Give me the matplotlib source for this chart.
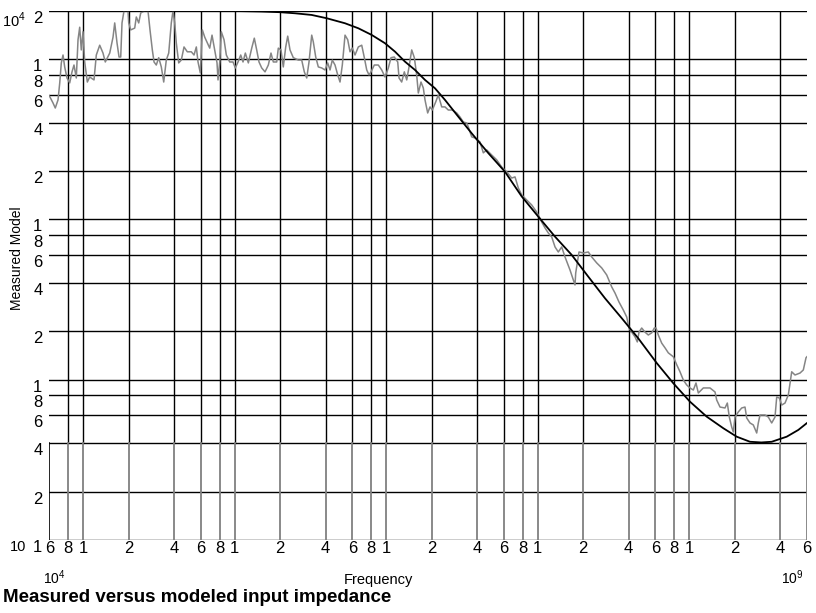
import matplotlib
matplotlib.use("Agg")
import matplotlib.pyplot as plt
from matplotlib import font_manager

# pick a condensed face if present
names = {f.name for f in font_manager.fontManager.ttflist}
narrow = "Liberation Sans Narrow" if "Liberation Sans Narrow" in names else "Liberation Sans"
plt.rcParams["font.family"] = [narrow, "DejaVu Sans"]
plt.rcParams["mathtext.fontset"] = "custom"
plt.rcParams["mathtext.rm"] = narrow

# ---- data ----
meas_freq = [
    6000, 6340, 6560, 6840, 7020, 7190, 7380, 7570, 7840, 8170,
    8460, 8720, 9030, 9270, 9510, 9740, 10000, 10260, 10680, 11070,
    11820, 12240, 12890, 13550, 14030, 15010, 15780, 16190, 16770, 17290,
    17740, 18090, 18650, 19820, 20030, 20650, 21940, 22480, 23320, 24040,
    25550, 26850, 27680, 28680, 29430, 30460, 31600, 32870, 34100, 35460,
    36790, 38260, 39260, 40300, 41290, 42820, 44550, 46420, 48800, 51870,
    54040, 55970, 57430, 59480, 61320, 63590, 66160, 68610, 71050, 74020,
    76660, 77830, 79870, 81840, 85270, 88310, 92970, 97750, 101200, 105500,
    109900, 113800, 117900, 123400, 129900, 135100, 140100, 145100, 151200, 159000,
    167200, 174100, 180400, 189900, 194600, 202700, 209900, 217800, 224500, 232400,
    244400, 263700, 277700, 288900, 299700, 310300, 323300, 331200, 343600, 357400,
    376400, 395700, 412300, 427000, 442100, 460700, 480000, 497100, 514800, 536400,
    558800, 578700, 599300, 624400, 656600, 691400, 719300, 746000, 772500, 796200,
    837200, 889600, 936700, 984900, 1.036e6, 1.079e6, 1.134e6, 1.195e6, 1.219e6, 1.269e6,
    1.321e6, 1.370e6, 1.419e6, 1.478e6, 1.538e6, 1.594e6, 1.634e6, 1.702e6, 1.763e6, 1.809e6,
    1.884e6, 1.952e6, 2.021e6, 2.128e6, 2.214e6, 2.332e6, 2.451e6, 2.577e6, 2.738e6, 2.929e6,
    3.079e6, 3.237e6, 3.410e6, 3.494e6, 3.679e6, 3.868e6, 4.174e6, 4.388e6, 4.621e6, 4.985e6,
    5.379e6, 5.803e6, 6.262e6, 6.756e6, 7.104e6, 7.469e6, 7.865e6, 8.486e6, 9.156e6, 9.879e6,
    1.066e7, 1.121e7, 1.178e7, 1.241e7, 1.305e7, 1.372e7, 1.444e7, 1.519e7, 1.639e7, 1.723e7,
    1.768e7, 1.787e7, 1.842e7, 1.879e7, 2.006e7, 2.164e7, 2.279e7, 2.459e7, 2.653e7, 2.863e7,
    3.089e7, 3.248e7, 3.451e7, 3.684e7, 3.880e7, 4.018e7, 4.186e7, 4.401e7, 4.557e7, 4.677e7,
    4.873e7, 5.123e7, 5.387e7, 5.673e7, 5.902e7, 6.056e7, 6.272e7, 6.605e7, 6.945e7, 7.302e7,
    7.879e7, 8.295e7, 8.722e7, 9.170e7, 9.656e7, 1.015e8, 1.068e8, 1.112e8, 1.152e8, 1.243e8,
    1.376e8, 1.485e8, 1.523e8, 1.602e8, 1.728e8, 1.790e8, 1.845e8, 1.913e8, 1.961e8, 2.012e8,
    2.115e8, 2.227e8, 2.342e8, 2.403e8, 2.527e8, 2.657e8, 2.798e8, 2.867e8, 2.942e8, 3.174e8,
    3.337e8, 3.514e8, 3.695e8, 3.792e8, 3.945e8, 4.092e8, 4.302e8, 4.523e8, 4.763e8, 5.008e8,
    5.403e8, 5.682e8, 5.919e8, 6.0e8,
]
meas_z = [
    5890, 5320, 4950, 5560, 7100, 9460, 10600, 8930, 7620, 7100,
    8320, 9180, 7620, 13200, 15800, 11400, 14800, 9590, 7190, 7730,
    7410, 10600, 12200, 10900, 9590, 10900, 13700, 16800, 12600, 10300,
    10300, 16800, 20000, 20000, 16800, 15200, 15600, 18300, 16800, 19400,
    20000, 20000, 15200, 11400, 9590, 9180, 10200, 8930, 7190, 9860,
    10900, 16800, 20000, 16800, 12600, 9460, 9860, 11900, 11100, 11100,
    10600, 11900, 9590, 8190, 15200, 13700, 12600, 11700, 14100, 11400,
    9460, 7410, 9590, 14800, 13200, 10600, 9590, 9590, 8800, 9590,
    10600, 9590, 10900, 9460, 11700, 13500, 11400, 9590, 8800, 8320,
    9180, 10900, 9590, 9590, 11700, 11400, 8930, 11900, 13900, 11400,
    10200, 9860, 9860, 8320, 7620, 9590, 14100, 12800, 10300, 8930,
    8800, 8550, 9460, 8550, 9860, 9180, 7960, 7190, 9180, 14100,
    13200, 11100, 11700, 10600, 11900, 12200, 10200, 8550, 7960, 8320,
    9180, 9180, 8550, 7730, 8800, 10200, 10300, 9590, 7620, 7190,
    8320, 7410, 8930, 11400, 10200, 7960, 6140, 7190, 6600, 5560,
    4610, 5030, 4810, 5400, 5970, 5030, 5030, 4810, 4810, 4610,
    4350, 4050, 3990, 3770, 3270, 3220, 3040, 2600, 2710, 2520,
    2350, 2120, 1980, 1810, 1840, 1570, 1420, 1320, 1230, 1110,
    963, 884, 823, 777, 673, 626, 673, 583, 483, 419,
    390, 463, 558, 626, 617, 626, 583, 535, 498, 450,
    379, 347, 305, 272, 246, 210, 198, 185, 172, 198,
    210, 198, 190, 196, 210, 210, 190, 169, 158, 147,
    139, 124, 112, 99.6, 92.7, 88.8, 86.2, 95.4, 82.6, 88.8,
    88.8, 83.8, 74.7, 67.5, 66.6, 71.5, 58.5, 50.7, 47.2, 58.5,
    62.9, 66.6, 67.5, 57.7, 53.7, 52.2, 46.5, 53.7, 60.2, 60.2,
    58.5, 53.7, 58.5, 78.0, 76.9, 69.5, 71.5, 80.3, 112, 107,
    110, 115, 137, 139,
]

model_freq = [
    6000, 100000, 150000, 200000, 250700, 323300, 406100, 536400, 656600, 804500,
    984900, 1.147e6, 1.335e6, 1.554e6, 1.809e6, 2.106e6, 2.451e6, 3.001e6, 3.679e6, 4.734e6,
    6.104e6, 7.865e6, 1.012e7, 1.305e7, 1.682e7, 2.164e7, 2.789e7, 3.596e7, 4.627e7, 6.121e7,
    7.879e7, 1.015e8, 1.309e8, 1.684e8, 2.065e8, 2.527e8, 3.0e8, 3.514e8, 4.415e8, 5.267e8,
    5.983e8,
]
model_z = [
    20000, 19950, 19800, 19600, 19300, 18840, 17970, 16720, 15560, 14140,
    12550, 11120, 9630, 8550, 7410, 6570, 5560, 4370, 3440, 2590,
    1980, 1390, 1040, 780, 600, 439, 322, 242, 181, 127,
    95.0, 72.9, 58.8, 49.8, 44.1, 41.0, 40.6, 41.0, 44.1, 48.6,
    53.5,
]

x_ticks = [6e3, 8e3, 1e4, 2e4, 4e4, 6e4, 8e4, 1e5, 2e5, 4e5, 6e5, 8e5,
           1e6, 2e6, 4e6, 6e6, 8e6, 1e7, 2e7, 4e7, 6e7, 8e7, 1e8, 2e8, 4e8, 6e8]
x_labels = ["6", "8", "1", "2", "4", "6", "8", "1", "2", "4", "6", "8",
            "1", "2", "4", "6", "8", "1", "2", "4", "6", "8", "1", "2", "4", "6"]
y_ticks = [10, 20, 40, 60, 80, 100, 200, 400, 600, 800,
           1000, 2000, 4000, 6000, 8000, 10000, 20000]
y_labels = ["1", "2", "4", "6", "8", "1", "2", "4", "6", "8",
            "1", "2", "4", "6", "8", "1", "2"]

x_min, x_max = 6e3, 6e8
y_min, y_max = 10, 2e4
y_split = 40  # below this the vertical rules are drawn grey

# ---- figure ----
fig = plt.figure(figsize=(8.16, 6.13), dpi=100)
ax = fig.add_axes([49.4 / 816, 73 / 613, 757.5 / 816, 529.2 / 613])
ax.set_xscale("log")
ax.set_yscale("log")
ax.set_xlim(x_min, x_max)
ax.set_ylim(y_min, y_max)

for s in ["top", "right", "left", "bottom"]:
    ax.spines[s].set_visible(False)

# horizontal rules
for y in y_ticks:
    ax.plot([x_min, x_max], [y, y], color="black", lw=1.0, zorder=1)

# vertical rules: black above the split, grey below it
for x in x_ticks[1:-1]:
    ax.plot([x, x], [y_split, y_max], color="black", lw=1.0, zorder=1)
for x in x_ticks[1:]:
    ax.plot([x, x], [y_min, y_split], color="#808080", lw=1.3, zorder=1)
ax.plot([x_min, x_min], [y_min, y_split], color="black", lw=1.2, zorder=1)

ax.plot(meas_freq, meas_z, color="#858585", lw=1.1, zorder=2, clip_on=True)
ax.plot(model_freq, model_z, color="black", lw=1.3, zorder=3)

ax.minorticks_off()
ax.set_xticks(x_ticks)
ax.set_xticklabels(x_labels, fontsize=12)
ax.set_yticks(y_ticks)
ax.set_yticklabels(y_labels, fontsize=12, va="top")
ax.tick_params(axis="both", length=0)
ax.tick_params(axis="x", pad=1)
ax.tick_params(axis="y", pad=5)

# decade markers next to the tick numbers
ax.text(-0.031, 1.0, r"10$^4$", transform=ax.transAxes, ha="right", va="top", fontsize=10.5)
ax.text(-0.031, 0.0, "10", transform=ax.transAxes, ha="right", va="top", fontsize=10.5)
fig.text(54 / 816, 1 - 578 / 613, r"10$^4$", ha="center", va="center", fontsize=10)
fig.text(792 / 816, 1 - 578 / 613, r"10$^9$", ha="center", va="center", fontsize=10)

fig.text(378 / 816, 1 - 580 / 613, "Frequency", ha="center", va="center", fontsize=10.5)
fig.text(17 / 816, 1 - 258 / 613, "Measured Model", ha="center", va="center",
         rotation=90, fontsize=10)
fig.text(3 / 816, 1 - 598 / 613, "Measured versus modeled input impedance",
         ha="left", va="center", fontsize=13.5, fontweight="bold",
         family=["Liberation Sans", "DejaVu Sans"])

fig.savefig("out.png", dpi=100)
